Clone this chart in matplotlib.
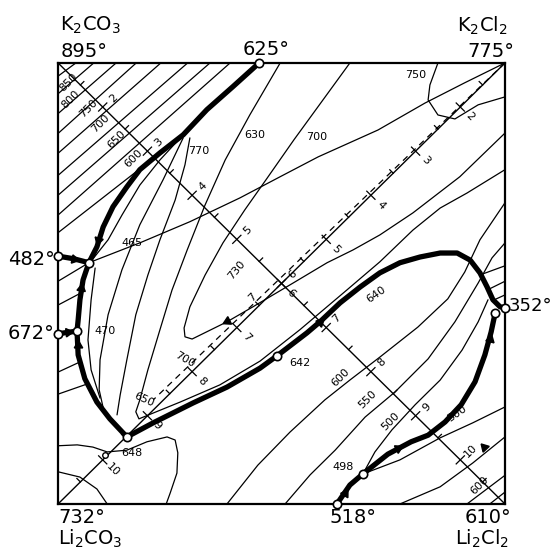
import numpy as np
import matplotlib
matplotlib.use("Agg")
import matplotlib.pyplot as plt

plt.rcParams["font.family"] = "DejaVu Sans"
plt.rcParams["mathtext.default"] = "regular"

# ── Digitised curves in square coordinates (0–100) ────────────────────────────
# x: carbonate (left) -> chloride (right), y: Li (bottom) -> K (top)

# thick boundary curves
bound_625_465 = [(45.0, 100.0), (39.1, 94.6), (33.3, 89.4), (28.0, 83.7), (22.8, 79.6),
                 (18.3, 75.8), (15.4, 71.9), (12.3, 67.4), (10.1, 62.8), (8.7, 58.3), (6.9, 54.7)]
bound_482_465 = [(0.0, 56.2), (3.5, 55.6), (6.9, 54.7)]
bound_465_470 = [(6.9, 54.7), (5.6, 50.8), (4.9, 46.3), (4.5, 41.7), (4.25, 39.2)]
bound_672_470 = [(0.0, 38.6), (4.25, 39.2)]
bound_470_648 = [(4.25, 39.2), (4.5, 33.8), (6.0, 28.4), (8.7, 23.1), (11.6, 19.3), (15.4, 15.2)]
bound_648_352 = [(15.4, 15.2), (21.3, 18.4), (30.2, 22.9), (37.8, 26.5), (45.2, 30.8), (49.0, 33.6),
                 (55.7, 38.8), (58.6, 41.3), (63.1, 45.6), (67.6, 49.2), (72.0, 52.4), (76.5, 54.7),
                 (81.0, 56.0), (85.5, 56.9), (89.3, 56.9), (92.2, 55.3), (94.4, 52.4), (96.0, 49.2),
                 (97.3, 46.3), (98.9, 44.7), (100.0, 44.5)]
bound_352_518 = [(97.8, 43.3), (96.9, 39.0), (95.5, 33.8), (93.3, 27.7), (90.2, 22.5), (86.6, 18.6),
                 (82.8, 15.6), (79.0, 14.1), (73.8, 11.3), (68.2, 6.8), (65.3, 4.3), (62.4, 0.0)]

# invariant / melting points (open circles)
node_pts = [(45.0, 100.0), (0.0, 56.2), (6.9, 54.7), (0.0, 38.6), (4.25, 39.2), (15.4, 15.2),
            (49.0, 33.6), (100.0, 44.5), (97.8, 43.3), (68.2, 6.8), (62.4, 0.0)]

# isotherms near K2CO3 corner
iso_corner = [[(0, 97.0), (4.0, 100)], [(0, 93.0), (8.0, 100)], [(0, 88.5), (13.0, 100)],
              [(0, 84.0), (17.5, 100)], [(0, 79.5), (23.0, 100)], [(0, 74.5), (29.0, 100)],
              [(0, 70.0), (34.0, 100)], [(0, 65.5), (38.5, 100)], [(0, 61.5), (27.8, 83.5)]]
iso_left_short = [[(0, 45.1), (5.6, 48.1)], [(0, 29.9), (4.9, 32.2)], [(0, 24.9), (6.5, 27.2)]]

line_465_k2cl2 = [(0, 50.5), (6.9, 54.7), (18.3, 59.2), (29.5, 64.0), (40.7, 69.4), (49.7, 74.2),
                  (58.2, 78.7), (71.6, 84.8), (82.1, 90.9), (91.0, 95.5), (100, 100)]
iso_700 = [(65.3, 100), (52.8, 82.6), (46.8, 73.9), (41.8, 66.7), (36.9, 59.2), (32.9, 51.9),
           (29.5, 44.7), (28.2, 39.9), (28.4, 37.9), (30.0, 37.4), (37.8, 41.3), (43.6, 44.7),
           (52.6, 50.1), (60.2, 54.7), (66.0, 57.6), (72.0, 61.0), (79.4, 66.0), (89.9, 74.2), (100, 84.1)]
iso_630 = [(49.7, 100), (42.9, 88.2), (37.4, 78.0), (32.9, 67.8), (28.9, 57.6), (25.5, 48.5),
           (22.8, 39.5), (20.1, 30.4), (18.3, 23.6), (17.4, 20.9), (18.1, 19.3), (27.3, 23.1),
           (36.2, 27.0), (45.2, 32.4), (54.1, 39.5), (64.6, 48.5), (72.0, 54.9), (79.4, 62.1),
           (85.5, 67.1), (91.5, 70.5), (100, 75.8)]
iso_750 = [(85.0, 100), (83.2, 95.0), (82.8, 91.6), (85.0, 88.2), (88.8, 87.3), (94.0, 90.5), (100, 92.3)]
dashed_line = [(100, 100), (21.3, 23.6)]

thin_770_465 = [(28.0, 83.7), (22.8, 78.0), (18.3, 72.3), (14.3, 65.5), (11.2, 59.9), (7.6, 55.3)]
thin_465_down = [(8.3, 53.5), (7.4, 46.3), (6.7, 37.2), (7.4, 30.4), (9.4, 24.0)]
thin_a = [(28.0, 83.0), (23.5, 73.5), (18.3, 63.3), (14.3, 53.1), (11.2, 42.9), (9.4, 32.7),
          (9.2, 25.9), (10.1, 21.8)]
thin_b = [(29.5, 83.0), (28.4, 76.9), (26.2, 68.9), (22.8, 59.9), (20.1, 51.9), (17.4, 42.9),
          (15.4, 32.7), (13.9, 24.7), (13.2, 20.2)]

loop_li2co3 = [(0, 13.2), (4.3, 13.4), (7.8, 12.9), (11.0, 11.8), (15.4, 12.2), (19.9, 14.1),
               (24.4, 15.2), (26.2, 14.5), (26.8, 11.6), (26.6, 7.0), (25.1, 2.5), (24.2, 0)]
arc_li2co3 = [(0, 7.3), (4.9, 6.1), (8.7, 3.4), (11.0, 0)]

iso_600 = [(37.8, 0), (44.7, 8.8), (51.9, 16.3), (59.7, 23.6), (65.3, 28.1), (72.0, 33.3),
           (80.5, 40.1), (87.2, 46.5), (91.0, 52.6), (94.4, 59.9), (100, 68.3)]
iso_550 = [(50.8, 0), (56.4, 6.6), (62.0, 12.2), (68.7, 19.7), (75.4, 25.4), (82.8, 32.9),
           (88.8, 41.3), (94.0, 50.1), (97.1, 55.8), (100, 59.2)]
iso_500a = [(68.2, 6.8), (70.9, 11.8), (74.7, 16.8), (79.9, 22.5), (85.5, 28.1), (90.4, 34.9),
            (94.0, 41.3), (96.2, 46.3)]
iso_500b = [(68.2, 6.8), (76.5, 10.0), (85.5, 15.0), (92.8, 18.4), (100, 22.0)]
iso_low_c = [(76.5, 0), (85.5, 3.9), (92.8, 9.3), (100, 15.2)]
iso_low_d = [(91.5, 0), (100, 6.5)]
iso_low_e = [(96.6, 0), (100, 2.7)]
hatch_352 = [[(94.6, 52.0), (100, 54.0)], [(96.2, 48.6), (100, 50.5)], [(97.4, 46.2), (100, 47.4)]]

# arrowheads on curves: x, y, dx, dy
arrows = [(3.6, 55.6, 1, -0.2), (9.0, 59.8, -0.3, -1), (5.1, 49.0, 0.15, 1), (4.4, 36.0, 0, 1),
          (2.2, 38.9, 1, 0.1), (58.6, 41.3, 1, 0.9), (64.3, 2.6, 0.6, 1), (76.0, 12.6, 1, 0.5),
          (96.6, 37.5, 0.25, 1), (95.3, 12.9, -0.3, -1), (37.8, 41.5, -1, -0.5)]

# diagonal scales: labels 2..10, label n sits at (n-1)/10 of the diagonal
diag_labels = [2, 3, 4, 5, 6, 7, 8, 9, 10]

# labels inside the square: text, x, y, rotation
inner_labels = [("850", 2.4, 95.5, 45), ("800", 2.9, 91.8, 45), ("750", 6.9, 89.6, 45),
                ("700", 9.6, 86.2, 45), ("650", 13.0, 82.6, 45), ("600", 16.8, 78.3, 45),
                ("770", 31.5, 80.0, 0), ("630", 44.1, 83.7, 0), ("700", 57.9, 83.2, 0),
                ("750", 80.1, 97.3, 0), ("465", 16.5, 59.2, 0), ("470", 10.5, 39.2, 0),
                ("730", 40.0, 53.1, 50), ("7", 43.6, 46.9, 45), ("700", 28.4, 32.7, -30),
                ("650", 19.2, 23.6, -25), ("648", 16.5, 11.6, 0), ("642", 54.0, 32.0, 0),
                ("640", 71.1, 47.6, 35), ("600", 63.1, 28.8, 45), ("550", 69.3, 23.6, 45),
                ("500", 74.3, 18.6, 45), ("500", 89.3, 20.6, 35), ("498", 63.8, 8.4, 0),
                ("600", 94.4, 4.3, 45)]

# corner / edge labels outside the square: text, x, y, ha, fontsize
outer_labels = [("K$_2$CO$_3$", 0.5, 108.5, "left", 14), ("895°", 0.5, 102.6, "left", 14),
                ("625°", 46.5, 103.0, "center", 14), ("K$_2$Cl$_2$", 100.7, 108.5, "right", 14),
                ("775°", 102.0, 102.6, "right", 14), ("482°", -0.8, 55.5, "right", 14),
                ("672°", -0.8, 38.6, "right", 14), ("352°", 100.9, 45.0, "left", 13),
                ("732°", 0.0, -3.0, "left", 14), ("Li$_2$CO$_3$", 0.0, -8.0, "left", 14),
                ("518°", 66.0, -3.0, "center", 14), ("610°", 101.5, -3.0, "right", 14),
                ("Li$_2$Cl$_2$", 101.0, -8.0, "right", 14)]


def draw(ax, pts, **kw):
    pts = np.asarray(pts, dtype=float)
    ax.plot(pts[:, 0], pts[:, 1], solid_capstyle="round", solid_joinstyle="round", **kw)


fig = plt.figure(figsize=(5.58, 5.52), dpi=100)
ax = fig.add_axes([0.104, 0.087, 0.801, 0.799])
ax.set_xlim(0, 100)
ax.set_ylim(0, 100)
ax.set_xticks([])
ax.set_yticks([])
for sp in ax.spines.values():
    sp.set_linewidth(1.6)

thin = dict(color="black", lw=0.9)

# thin isotherms
for seg in iso_corner + iso_left_short + hatch_352:
    draw(ax, seg, **thin)
for curve in (line_465_k2cl2, iso_700, iso_630, iso_750, thin_770_465, thin_465_down,
              thin_a, thin_b, loop_li2co3, arc_li2co3, iso_600, iso_550, iso_500a,
              iso_500b, iso_low_c, iso_low_d, iso_low_e):
    draw(ax, curve, **thin)
dl = np.asarray(dashed_line)
ax.plot(dl[:, 0], dl[:, 1], color="black", lw=0.9, linestyle=(0, (5, 4)))

# diagonals with scales
ax.plot([0, 100], [100, 0], color="black", lw=1.0)
ax.plot([0, 100], [0, 100], color="black", lw=1.0)
s = 1 / np.sqrt(2)
for n in diag_labels:
    f = (n - 1) / 10
    # K2CO3 -> Li2Cl2 diagonal
    p = np.array([100 * f, 100 - 100 * f])
    nv = np.array([s, s])
    ax.plot([p[0] - 1.3 * nv[0], p[0] + 1.3 * nv[0]], [p[1] - 1.3 * nv[1], p[1] + 1.3 * nv[1]],
            color="black", lw=0.9)
    ax.text(p[0] + 2.4, p[1] + 2.0, str(n), fontsize=8, rotation=45, ha="center", va="center")
    # K2Cl2 -> Li2CO3 diagonal
    q = np.array([100 - 100 * f, 100 - 100 * f])
    mv = np.array([-s, s])
    ax.plot([q[0] - 1.3 * mv[0], q[0] + 1.3 * mv[0]], [q[1] - 1.3 * mv[1], q[1] + 1.3 * mv[1]],
            color="black", lw=0.9)
    ax.text(q[0] + 2.2, q[1] - 2.2, str(n), fontsize=8, rotation=-45, ha="center", va="center")
for k in range(10):
    f = k / 10 + 0.05
    p = np.array([100 * f, 100 - 100 * f])
    ax.plot([p[0], p[0] + 1.1 * s], [p[1], p[1] + 1.1 * s], color="black", lw=0.9)
    q = np.array([100 - 100 * f, 100 - 100 * f])
    ax.plot([q[0], q[0] - 1.1 * s], [q[1], q[1] + 1.1 * s], color="black", lw=0.9)

# thick boundary curves
for curve in (bound_625_465, bound_482_465, bound_465_470, bound_672_470, bound_470_648,
              bound_648_352, bound_352_518):
    draw(ax, curve, color="black", lw=3.8, zorder=4)

for x, y, dx, dy in arrows:
    ang = np.degrees(np.arctan2(dy, dx)) - 90
    ax.plot(x, y, marker=(3, 0, ang), markersize=7, color="black", zorder=5)

npts = np.asarray(node_pts)
ax.plot(npts[:, 0], npts[:, 1], "o", markersize=6, markerfacecolor="white",
        markeredgecolor="black", markeredgewidth=1.2, zorder=6, clip_on=False)
ax.plot(10.5, 11.1, "o", markersize=4, markerfacecolor="white", markeredgecolor="black",
        markeredgewidth=1.0, zorder=6)

for txt, x, y, rot in inner_labels:
    ax.text(x, y, txt, fontsize=8, rotation=rot, ha="center", va="center", zorder=7)

for txt, x, y, ha, fs in outer_labels:
    ax.text(x, y, txt, fontsize=fs, ha=ha, va="center", clip_on=False)

fig.savefig("out.png", dpi=100, facecolor="white")
